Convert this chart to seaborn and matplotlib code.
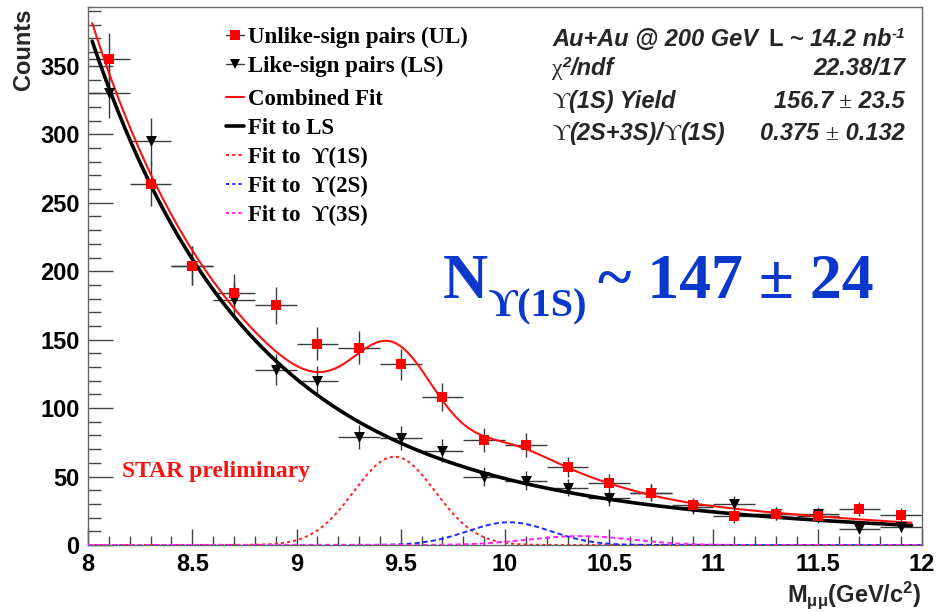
import numpy as np
import pandas as pd
import matplotlib
matplotlib.use("Agg")
import matplotlib.pyplot as plt
import seaborn as sns
from matplotlib.ticker import MultipleLocator

# ---------------- data ----------------
bin_centers = [8.1, 8.3, 8.5, 8.7, 8.9, 9.1, 9.3, 9.5, 9.7, 9.9,
               10.1, 10.3, 10.5, 10.7, 10.9, 11.1, 11.3, 11.5, 11.7, 11.9]
bin_half_width = [0.1] * 20
ul_counts = [355, 264, 204, 184, 175, 147, 144, 132, 108, 77,
             73, 57, 45, 38, 29, 21, 23, 21, 26, 22]
ul_err = [18.8, 16.2, 14.3, 13.6, 13.2, 12.1, 12.0, 11.5, 10.4, 8.8,
          8.5, 7.5, 6.7, 6.2, 5.4, 4.6, 4.8, 4.6, 5.1, 4.7]
ls_counts = [330, 295, 204, 179, 128, 120, 79, 78, 69, 50,
             47, 42, 34, 38, 28, 30, 23, 23, 12, 13]
ls_err = [18.2, 17.2, 14.3, 13.4, 11.3, 11.0, 8.9, 8.8, 8.3, 7.1,
          6.9, 6.5, 5.8, 6.2, 5.3, 5.5, 4.8, 4.8, 3.5, 3.6]

# fit parameters: background = A1*exp(-k1*(m-8)) + A2*exp(-k2*(m-8)); gaussian peaks
ls_bkg = [308.2, 1.40, 68.9, 0.42]
comb_bkg = [267.7, 1.60, 123.3, 0.52]
peak_mass = [9.47, 10.02, 10.36]
peak_height = [64.5, 16.6, 6.5]
peak_sigma = [0.195, 0.20, 0.25]
fit_range = [8.02, 11.95]

x_tick_labels = ["8", "8.5", "9", "9.5", "10", "10.5", "11", "11.5", "12"]
y_tick_labels = ["0", "50", "100", "150", "200", "250", "300", "350"]
legend_labels = ["Unlike-sign pairs (UL)", "Like-sign pairs (LS)", "Combined Fit",
                 "Fit to LS", "Fit to  ϒ(1S)", "Fit to  ϒ(2S)", "Fit to  ϒ(3S)"]

# ---------------- styling ----------------
sns.set_theme(style="white")
plt.rcParams["font.family"] = ["Liberation Sans", "DejaVu Sans"]
plt.rcParams["mathtext.fontset"] = "custom"
plt.rcParams["mathtext.rm"] = "Liberation Sans:bold"
plt.rcParams["mathtext.it"] = "Liberation Sans:bold:italic"
plt.rcParams["mathtext.bf"] = "Liberation Sans:bold"

W, H = 937, 612
fig = plt.figure(figsize=(W / 100, H / 100), dpi=100)
fig.patch.set_facecolor("white")
L, R, T, B = 88, 922, 7, 545
ax = fig.add_axes([L / W, 1 - B / H, (R - L) / W, (B - T) / H])
ax.set_facecolor("white")


def fpos(x, y):
    return x / W, 1 - y / H


# ---------------- curves ----------------
m = np.linspace(fit_range[0], fit_range[1], 500)
m_full = np.linspace(8.0, 12.0, 600)


def dexp(x, p):
    t = x - 8.0
    return p[0] * np.exp(-p[1] * t) + p[2] * np.exp(-p[3] * t)


def gauss(x, mu, h, s):
    return h * np.exp(-0.5 * ((x - mu) / s) ** 2)


peaks_full = [gauss(m_full, mu, h, s) for mu, h, s in zip(peak_mass, peak_height, peak_sigma)]
ls_fit = dexp(m, ls_bkg)
comb_fit = dexp(m, comb_bkg) + sum(gauss(m, mu, h, s) for mu, h, s in zip(peak_mass, peak_height, peak_sigma))

peak_colors = ["#ff2020", "#1a2cff", "#ff20ff"]
peak_dash = [(0, (1.6, 1.6)), (0, (2.6, 1.6)), (0, (2.6, 1.6))]

ax.errorbar(bin_centers, ls_counts, yerr=ls_err, xerr=bin_half_width, fmt="none",
            ecolor="#3a3a3a", elinewidth=1.0, capsize=0, zorder=2)
ax.errorbar(bin_centers, ul_counts, yerr=ul_err, xerr=bin_half_width, fmt="none",
            ecolor="#3a3a3a", elinewidth=1.0, capsize=0, zorder=2)

sns.lineplot(x=m, y=ls_fit, ax=ax, color="black", lw=2.6, zorder=3)
sns.lineplot(x=m, y=comb_fit, ax=ax, color="#ff1010", lw=1.5, zorder=4)
for g, c, d in zip(peaks_full, peak_colors, peak_dash):
    ax.plot(m_full, g, color=c, lw=1.4, linestyle=d, zorder=5)

df_ul = pd.DataFrame({"m": bin_centers, "n": ul_counts})
df_ls = pd.DataFrame({"m": bin_centers, "n": ls_counts})
sns.scatterplot(data=df_ls, x="m", y="n", ax=ax, marker="v", s=62, color="black",
                edgecolor="black", linewidth=0, zorder=6)
sns.scatterplot(data=df_ul, x="m", y="n", ax=ax, marker="s", s=62, color="#ff0000",
                edgecolor="#ff0000", linewidth=0, zorder=7)

# ---------------- axes ----------------
ax.set_xlim(8, 12)
ax.set_ylim(0, 393)
tick_font = dict(family="Liberation Sans", weight="bold", size=17, color="black")
ax.set_xticks([float(v) for v in x_tick_labels])
ax.set_xticklabels(x_tick_labels, fontdict=tick_font)
ax.set_yticks([float(v) for v in y_tick_labels])
ax.set_yticklabels(y_tick_labels, fontdict=tick_font)
ax.xaxis.set_minor_locator(MultipleLocator(0.1))
ax.yaxis.set_minor_locator(MultipleLocator(10))
ax.tick_params(axis="x", which="major", direction="in", length=11.5, width=1.0, color="#444444", pad=6)
ax.tick_params(axis="x", which="minor", direction="in", length=6.3, width=1.0, color="#444444")
ax.tick_params(axis="y", which="major", direction="in", length=18, width=1.0, color="#444444", pad=6)
ax.tick_params(axis="y", which="minor", direction="in", length=9, width=1.0, color="#444444")
ax.tick_params(bottom=True, left=True, top=False, right=False, which="both")
for s in ax.spines.values():
    s.set_color("#666666")
    s.set_linewidth(1.0)
ax.set_xlabel("")
ax.set_ylabel("")

fig.text(*fpos(24, 8), "Counts", rotation=90, ha="center", va="top",
         fontsize=17, fontweight="bold", family="Liberation Sans")
fig.text(*fpos(921, 602), r"M$_{\mathrm{\mu\mu}}$(GeV/c$^{2}$)", ha="right", va="baseline",
         fontsize=17, fontweight="bold", family="Liberation Sans")

# ---------------- legend (ROOT-style) ----------------
leg_rows = [35, 64, 97, 126, 155, 184, 213]
serif = ["Liberation Serif", "DejaVu Serif"]
hx0, hx1, hxm, tx = 226, 244, 235, 248
handle_specs = [
    dict(color="#3a3a3a", lw=1.0, ls="-", marker="s", mc="#ff0000"),
    dict(color="#3a3a3a", lw=1.0, ls="-", marker="v", mc="black"),
    dict(color="#ff1010", lw=1.5, ls="-", marker=None, mc=None),
    dict(color="black", lw=2.6, ls="-", marker=None, mc=None),
    dict(color=peak_colors[0], lw=1.4, ls=(0, (1.6, 1.6)), marker=None, mc=None),
    dict(color=peak_colors[1], lw=1.4, ls=(0, (1.6, 1.6)), marker=None, mc=None),
    dict(color=peak_colors[2], lw=1.4, ls=(0, (1.6, 1.6)), marker=None, mc=None),
]
for y, lab, hs in zip(leg_rows, legend_labels, handle_specs):
    x0, yy = fpos(hx0, y)
    x1, _ = fpos(hx1, y)
    fig.add_artist(plt.Line2D([x0, x1], [yy, yy], transform=fig.transFigure,
                              color=hs["color"], lw=hs["lw"], linestyle=hs["ls"]))
    if hs["marker"]:
        xm, _ = fpos(hxm, y)
        fig.add_artist(plt.Line2D([xm], [yy], transform=fig.transFigure, marker=hs["marker"],
                                  markersize=7.5, color=hs["mc"], markeredgewidth=0, linestyle="none"))
    fig.text(*fpos(tx, y), lab, ha="left", va="center_baseline", fontsize=16.5,
             fontweight="bold", family=serif, color="black")

# ---------------- info box (rich text pieces) ----------------
renderer = fig.canvas.get_renderer()
BI = dict(fontsize=17, fontweight="bold", fontstyle="italic", family=["Liberation Sans", "DejaVu Sans"])
BU = dict(fontsize=17, fontweight="bold", fontstyle="normal", family=["Liberation Sans", "DejaVu Sans"])
SY = dict(fontsize=17, fontweight="normal", fontstyle="normal", family=serif)
SUP = dict(fontsize=11, fontweight="bold", fontstyle="italic", family=["Liberation Sans", "DejaVu Sans"])


def rich(x_px, y_px, pieces, align="left"):
    arts = []
    widths = []
    for txt, props, dy in pieces:
        t = fig.text(0, 0, txt, ha="left", va="baseline", **props)
        widths.append(t.get_window_extent(renderer).width)
        arts.append((t, dy))
    total = sum(widths)
    x = x_px if align == "left" else x_px - total
    for (t, dy), w in zip(arts, widths):
        t.set_position(fpos(x, y_px - dy))
        x += w


base_rows = [46, 75, 108, 140]
rich(552, base_rows[0], [("Au+Au @ 200 GeV", BI, 0)])
rich(905, base_rows[0], [("L", BU, 0), (" ~ 14.2 nb", BI, 0), ("-1", SUP, 8)], align="right")
rich(552, base_rows[1], [("χ", SY, 0), ("2", SUP, 8), ("/ndf", BI, 0)])
rich(905, base_rows[1], [("22.38/17", BI, 0)], align="right")
rich(552, base_rows[2], [("ϒ", SY, 0), ("(1S) Yield", BI, 0)])
rich(905, base_rows[2], [("156.7 ", BI, 0), ("±", SY, 0), (" 23.5", BI, 0)], align="right")
rich(552, base_rows[3], [("ϒ", SY, 0), ("(2S+3S)/", BI, 0), ("ϒ", SY, 0), ("(1S)", BI, 0)])
rich(905, base_rows[3], [("0.375 ", BI, 0), ("±", SY, 0), (" 0.132", BI, 0)], align="right")

# ---------------- annotations ----------------
blue = "#0a38cc"
fig.text(*fpos(443, 298), "N", ha="left", va="baseline", fontsize=45,
         fontweight="bold", family=serif, color=blue)
fig.text(*fpos(489, 316), "ϒ(1S)", ha="left", va="baseline", fontsize=29,
         fontweight="bold", family=serif, color=blue)
fig.text(*fpos(598, 298), "~ 147 ± 24", ha="left", va="baseline", fontsize=46,
         fontweight="bold", family=serif, color=blue)

fig.text(*fpos(122, 477), "STAR preliminary", ha="left", va="baseline", fontsize=17,
         fontweight="bold", family=serif, color="#ff1010")

fig.savefig("out.png", dpi=100, facecolor="white")
